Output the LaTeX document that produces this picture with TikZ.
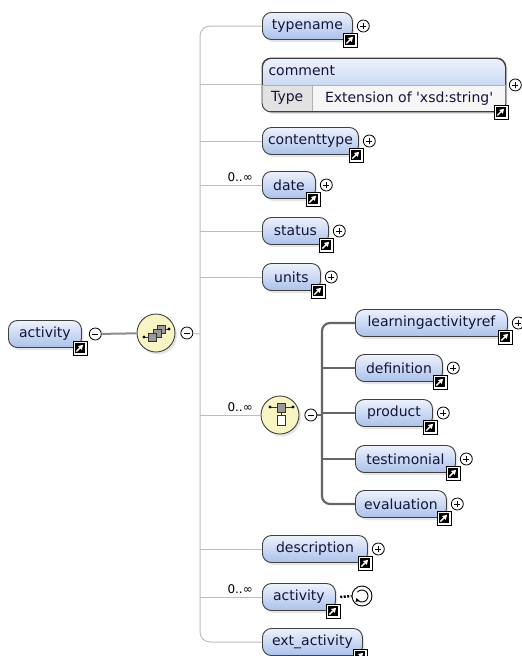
\documentclass[tikz,border=0pt]{standalone}
\usepackage{fontspec}
\setmainfont{DejaVu Sans}
\usetikzlibrary{shadows, arrows.meta, calc, positioning}

\definecolor{boxtop}{HTML}{EDF2FC}
\definecolor{boxbot}{HTML}{ABC1EB}
\definecolor{boxtext}{HTML}{14143C}
\definecolor{compfill}{HTML}{F9F4C4}
\definecolor{treegray}{HTML}{BDBDBD}
\definecolor{choicegray}{HTML}{666666}
\definecolor{typegray}{HTML}{E2E2E2}
\definecolor{valgray}{HTML}{F6F6F6}

\begin{document}
\begin{tikzpicture}[
    x=1pt, y=-1pt,
    font=\fontsize{14}{16}\selectfont,
    elem/.style={draw=black!75, line width=0.9pt, rounded corners=9pt,
      top color=boxtop, bottom color=boxbot, text=boxtext,
      minimum height=27pt, inner xsep=5pt, anchor=west,
      drop shadow={shadow xshift=2pt, shadow yshift=-2.5pt, fill=black!20}},
    cell/.style={minimum height=26pt, inner sep=0pt, text=boxtext},
    compos/.style={circle, draw=black!75, line width=0.9pt, fill=compfill,
      minimum size=38pt, inner sep=0pt,
      drop shadow={shadow xshift=2pt, shadow yshift=-2.5pt, fill=black!20}},
    linkbox/.style={draw=black, line width=0.7pt, fill=white, minimum size=14pt, inner sep=0pt,
      path picture={
        \fill[black] ($(path picture bounding box.south west)+(1.8pt,1.8pt)$) rectangle
          ($(path picture bounding box.north east)+(-1.8pt,-1.8pt)$);
        \draw[white, line width=1.3pt, -{Triangle[length=4.5pt,width=5pt]}]
          ($(path picture bounding box.center)+(-3.5pt,-3.5pt)$) --
          ($(path picture bounding box.center)+(3.2pt,3.2pt)$);}},
    plusc/.style={circle, draw=black, line width=0.8pt, fill=white, minimum size=12pt, inner sep=0pt,
      path picture={
        \draw[line width=0.8pt] ($(path picture bounding box.center)+(-3pt,0pt)$) --
          ($(path picture bounding box.center)+(3pt,0pt)$)
          ($(path picture bounding box.center)+(0pt,-3pt)$) --
          ($(path picture bounding box.center)+(0pt,3pt)$);}},
    minusc/.style={circle, draw=black, line width=0.8pt, fill=white, minimum size=12pt, inner sep=0pt,
      path picture={
        \draw[line width=0.8pt] ($(path picture bounding box.center)+(-3pt,0pt)$) --
          ($(path picture bounding box.center)+(3pt,0pt)$);}},
    recur/.style={circle, draw=black, line width=0.9pt, fill=white, minimum size=20pt, inner sep=0pt},
    mult/.style={font=\fontsize{12}{14}\selectfont, text=black, inner sep=1pt, anchor=south east},
    tree/.style={draw=treegray, line width=1pt},
    ctree/.style={draw=choicegray, line width=2.2pt},
    seqline/.style={draw=black!45, line width=2pt},
    recline/.style={draw=black, line width=2.5pt, dash pattern=on 2pt off 1.5pt}
  ]
  \path[use as bounding box, fill=white] (0,0) rectangle (522,656);

  % root and sequence
  \node[elem, minimum width=73pt] (activity) at (8,334) {activity};
  \node[linkbox, xshift=-2pt] (activity-link) at (activity.south east) {};
  \node[minusc, right=7pt of activity.east] (activity-minus) {};
  \node[compos] (seq) at (156,333) {};
  \node[minusc, right=5pt of seq.east] (seq-minus) {};
  \draw[seqline] (activity-minus) -- (seq);
  \begin{scope}[shift={(seq.center)}, draw=black!80, line width=0.6pt]
    \draw[line width=1pt] (-12,4) -- (-8,4) (9,-4) -- (13,-4);
    \fill (-12,4) circle (1.6pt) (13,-4) circle (1.6pt);
    \filldraw[fill=black!40] (1,-8) rectangle (9,0);
    \filldraw[fill=black!40] (-3,-4) rectangle (5,4);
    \filldraw[fill=black!40] (-8,0) rectangle (0,8);
  \end{scope}

  % sequence children
  \node[elem, minimum width=90pt] (typename) at (262,26) {typename};
  \node[elem, minimum width=243pt, minimum height=53pt, anchor=north west] (comment) at (262,58) {};
  \begin{scope}
    \clip[rounded corners=9pt] (comment.north west) rectangle (comment.south east);
    \node[cell, fill=typegray, minimum width=50pt, anchor=north west] (typecell) at (comment.west) {Type};
    \node[cell, fill=valgray, minimum width=193pt, anchor=north west] (typeval) at (typecell.north east)
      {Extension of \textquotesingle xsd:string\textquotesingle};
  \end{scope}
  \draw[black!75, line width=0.9pt, rounded corners=9pt] (comment.north west) rectangle (comment.south east);
  \draw[black!30, line width=0.7pt] (comment.west) -- (comment.east)
    (typecell.north east) -- (typecell.south east);
  \node[anchor=west, text=boxtext] (comment-title) at ($(comment.north west)+(3,13)$) {comment};
  \node[linkbox, xshift=-5pt] (comment-link) at (comment.south east) {};
  \node[plusc, right=3pt of comment.east] (comment-plus) {};
  \node[elem, minimum width=96pt] (contenttype) at (262,141) {contenttype};
  \node[elem, minimum width=53pt] (date) at (262,185) {date};
  \node[elem, minimum width=66pt] (status) at (262,231) {status};
  \node[elem, minimum width=58pt] (units) at (262,277) {units};
  \node[compos] (choice) at (280,415) {};
  \node[minusc, right=5pt of choice.east] (choice-minus) {};
  \node[elem, minimum width=105pt] (description) at (262,549) {description};
  \node[elem, minimum width=73pt] (subactivity) at (262,597) {activity};
  \node[elem, minimum width=100pt] (ext_activity) at (262,642) {ext\_activity};
  \node[linkbox, xshift=-3pt] (subactivity-link) at (subactivity.south east) {};
  \node[linkbox, xshift=-3pt] (ext_activity-link) at (ext_activity.south east) {};
  \node[recur] (rec) at (362,596) {};
  \draw[recline] (subactivity-link.east |- subactivity.east) -- (rec.west);
  \draw[line width=0.9pt, -{Triangle[length=3.5pt,width=4pt]}]
    ($(rec.center)+(140:6pt)$) arc[start angle=140, end angle=-160, radius=6pt];
  \begin{scope}[shift={(choice.center)}, draw=black!80, line width=0.6pt]
    \draw[line width=1pt] (-10,-8) -- (13,-8) (1,-3) -- (1,0);
    \fill (-10,-8) circle (1.6pt) (13,-8) circle (1.6pt);
    \filldraw[fill=black!40] (-3,-12) rectangle (5,-3);
    \filldraw[fill=white] (-3,0) rectangle (5,10);
  \end{scope}

  % multiplicities
  \node[mult] (date-mult) at (254,183) {0..∞};
  \node[mult] (choice-mult) at (254,413) {0..∞};
  \node[mult] (subactivity-mult) at (254,595) {0..∞};

  % choice children
  \node[elem, minimum width=152pt] (learningactivityref) at (355,323) {learningactivityref};
  \node[elem, minimum width=87pt] (definition) at (355,368) {definition};
  \node[elem, minimum width=77pt] (product) at (355,413) {product};
  \node[elem, minimum width=100pt] (testimonial) at (355,459) {testimonial};
  \node[elem, minimum width=91pt] (evaluation) at (355,504) {evaluation};

  \foreach \el in {typename, contenttype, date, status, units, learningactivityref,
      definition, product, testimonial, evaluation, description} {
    \node[linkbox, xshift=-3pt] (\el-link) at (\el.south east) {};
    \node[plusc, right=4pt of \el.east] (\el-plus) {};
  }

  % tree lines
  \coordinate (spine) at (200,334);
  \coordinate (cspine) at (322,415);
  \draw[tree, rounded corners=10pt] (typename.west) -| (spine) |- (ext_activity.west);
  \draw[tree] (seq-minus) -- (spine);
  \foreach \el in {comment, contenttype, date, status, units, choice, description, subactivity}
    \draw[tree] (\el.west) -- (\el.west -| spine);
  \draw[ctree, rounded corners=8pt] (learningactivityref.west) -| (cspine) |- (evaluation.west);
  \draw[ctree] (choice-minus) -- (cspine);
  \foreach \el in {definition, product, testimonial}
    \draw[ctree] (\el.west) -- (\el.west -| cspine);
\end{tikzpicture}
\end{document}
